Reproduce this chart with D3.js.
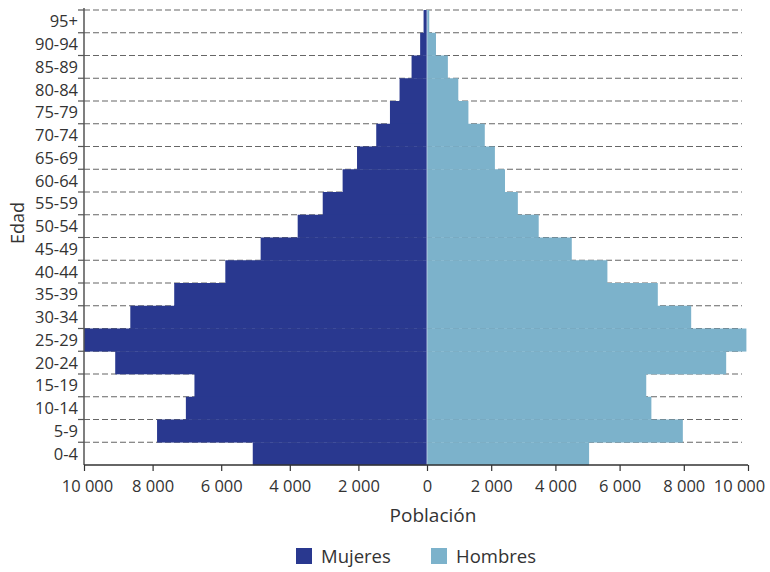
<!DOCTYPE html>
<html>
<head>
<meta charset="utf-8">
<script src="https://cdn.jsdelivr.net/npm/d3@7"></script>
<style>
  body { margin: 0; background: #fff; }
  svg { display: block; }
  text { font-family: "Open Sans", "DejaVu Sans", sans-serif; fill: #333; }
</style>
</head>
<body>
<svg id="chart" width="770" height="572"></svg>
<script>
const ageGroups = ["95+","90-94","85-89","80-84","75-79","70-74","65-69","60-64","55-59","50-54","45-49","40-44","35-39","30-34","25-29","20-24","15-19","10-14","5-9","0-4"];
const mujeres = [100,200,450,800,1080,1480,2040,2460,3040,3770,4850,5880,7370,8650,10000,9090,6780,7030,7870,5080];
const hombres = [70,280,650,975,1290,1800,2115,2430,2830,3480,4510,5620,7190,8230,9950,9320,6830,6990,7970,5050];
const xTicks = [0,2000,4000,6000,8000,10000];
const seriesNames = ["Mujeres","Hombres"];
const colors = ["#29388f","#7cb2cb"];

(function(){
const svg = d3.select("#chart");
const plotTop = 10, plotBottom = 465, zeroX = 427;
const xL = d3.scaleLinear().domain([0,10000]).range([zeroX, 84]);
const xR = d3.scaleLinear().domain([0,10000]).range([zeroX, 748]);
const y = d3.scaleBand().domain(ageGroups).range([plotTop, plotBottom]).padding(0);

const loc = d3.formatLocale({decimal: ",", thousands: " ", grouping: [3], currency: ["", "€"]});
const fmt = loc.format(",d");

// gridlines at band boundaries
const bounds = ageGroups.map(d => y(d));
svg.append("g").selectAll("line").data(bounds).join("line")
  .attr("x1", 84).attr("x2", 742)
  .attr("y1", d => d).attr("y2", d => d)
  .attr("stroke", "#666").attr("stroke-width", 1.2)
  .attr("stroke-dasharray", "6,3");

// bars
svg.append("g").selectAll("rect").data(mujeres).join("rect")
  .attr("x", d => xL(d)).attr("width", d => zeroX - xL(d))
  .attr("y", (d,i) => y(ageGroups[i])).attr("height", y.bandwidth() + 0.3)
  .attr("fill", colors[0]);
svg.append("g").selectAll("rect").data(hombres).join("rect")
  .attr("x", zeroX).attr("width", d => xR(d) - zeroX)
  .attr("y", (d,i) => y(ageGroups[i])).attr("height", y.bandwidth() + 0.3)
  .attr("fill", colors[1]);
svg.append("line").attr("x1",zeroX).attr("x2",zeroX).attr("y1",plotTop).attr("y2",plotBottom)
  .attr("stroke","#c9d6ea").attr("stroke-width",0.8);

// left axis
const yAxis = svg.append("g").attr("transform", "translate(84,0)");
yAxis.append("line").attr("x1",0).attr("x2",0).attr("y1",plotTop-2).attr("y2",plotBottom)
  .attr("stroke","#555").attr("stroke-width",1.5);
yAxis.selectAll(".tk").data(bounds).join("line").attr("class","tk")
  .attr("x1",-6).attr("x2",0).attr("y1",d=>d).attr("y2",d=>d)
  .attr("stroke","#555").attr("stroke-width",1.2);
yAxis.selectAll("text").data(ageGroups).join("text")
  .attr("x",-6).attr("y", d => y(d) + y.bandwidth()/2)
  .attr("dy","0.36em").attr("text-anchor","end")
  .style("font-size","16.5px").text(d => d);

// bottom axis
const xAxisL = d3.axisBottom(xL).tickValues(xTicks).tickFormat(fmt).tickSize(6).tickPadding(9);
const xAxisR = d3.axisBottom(xR).tickValues(xTicks.slice(1)).tickFormat(fmt).tickSize(6).tickPadding(9);
const gxl = svg.append("g").attr("transform",`translate(0,${plotBottom})`).call(xAxisL);
const gxr = svg.append("g").attr("transform",`translate(0,${plotBottom})`).call(xAxisR);
[gxl,gxr].forEach(g => {
  g.select(".domain").remove();
  g.selectAll(".tick line").attr("stroke","#333").attr("stroke-width",1.2);
  g.selectAll(".tick text").style("font-size","16.5px").style("font-family",'"Open Sans", sans-serif').attr("fill","#333");
});
gxr.selectAll(".tick").filter(d => d === 10000).select("text").attr("x", -9);
gxl.selectAll(".tick").filter(d => d === 10000).select("text").attr("x", 3);
svg.append("line").attr("x1",84).attr("x2",748).attr("y1",plotBottom).attr("y2",plotBottom)
  .attr("stroke","#333").attr("stroke-width",1.5);

// axis titles
svg.append("text").attr("x",433).attr("y",522).attr("text-anchor","middle")
  .style("font-size","19px").text("Población");
svg.append("text").attr("transform","translate(24,223) rotate(-90)").attr("text-anchor","middle")
  .style("font-size","18px").text("Edad");

// legend
const leg = svg.append("g");
const legX = [296, 431];
seriesNames.forEach((n,i) => {
  leg.append("rect").attr("x",legX[i]).attr("y",548).attr("width",16).attr("height",16).attr("fill",colors[i]);
  leg.append("text").attr("x",legX[i]+25).attr("y",563).style("font-size","18.5px").text(n);
});
})();
</script>
</body>
</html>
